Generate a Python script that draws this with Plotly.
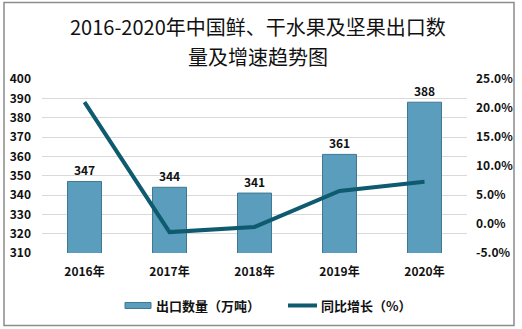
import plotly.graph_objects as go

years = ["2016年", "2017年", "2018年", "2019年", "2020年"]
export_qty = [347, 344, 341, 361, 388]
growth_pct = [21.0, -1.4, -0.5, 5.7, 7.3]
left_ticks = list(range(310, 401, 10))
right_ticks = list(range(-5, 26, 5))
right_labels = [f"{v:.1f}%" for v in right_ticks]
title_lines = ["2016-2020年中国鲜、干水果及坚果出口数", "量及增速趋势图"]
series_names = ["出口数量（万吨）", "同比增长（%）"]

FONT = "Noto Sans CJK SC, Noto Sans, sans-serif"
W, H = 522, 329
PLOT_LEFT, PLOT_RIGHT = 42, 467
PLOT_TOP, PLOT_BOTTOM = 79.3, 252.7
BAR_COLOR = "#5b9dbd"
LINE_COLOR = "#0e5a6e"


def py2paper(py):
    return (PLOT_BOTTOM - py) / (PLOT_BOTTOM - PLOT_TOP)


def px2paper(px):
    return (px - PLOT_LEFT) / (PLOT_RIGHT - PLOT_LEFT)


fig = go.Figure()
fig.add_trace(go.Bar(
    x=years, y=export_qty, name=series_names[0],
    width=0.4,
    marker=dict(color=BAR_COLOR, line=dict(color="#3f7890", width=1)),
    text=[str(v) for v in export_qty], textposition="outside",
    textfont=dict(size=12, color="#111", family=FONT, weight="bold"),
    cliponaxis=False,
))
fig.add_trace(go.Scatter(
    x=years, y=growth_pct, name=series_names[1], yaxis="y2",
    mode="lines", line=dict(color=LINE_COLOR, width=4),
))

fig.update_layout(
    width=W, height=H,
    margin=dict(l=PLOT_LEFT, r=W - PLOT_RIGHT, t=PLOT_TOP, b=H - PLOT_BOTTOM, autoexpand=False),
    paper_bgcolor="white", plot_bgcolor="white",
    font=dict(family=FONT, size=11, color="#111"),
    xaxis=dict(showline=False, ticks="", tickfont=dict(size=12, weight="bold"),
               showgrid=False, ticklabelstandoff=10),
    yaxis=dict(range=[310, 400], tickvals=left_ticks, showgrid=True,
               gridcolor="#d9d9d9", gridwidth=1, zeroline=False, ticks="",
               tickfont=dict(size=12, weight="bold"), ticklabelstandoff=10),
    yaxis2=dict(range=[-5, 25], tickvals=right_ticks, ticktext=right_labels,
                overlaying="y", side="right",
                showgrid=False, zeroline=False,
                tickfont=dict(size=12, weight="bold"), ticklabelstandoff=8),
    barmode="overlay",
    showlegend=False,
)

# title: two centred lines
for line, py in zip(title_lines, [27, 57]):
    fig.add_annotation(xref="paper", yref="paper", x=px2paper(258), y=py2paper(py),
                       text=line, showarrow=False, yanchor="middle",
                       font=dict(family=FONT, size=20, color="#111"))

# custom legend
LEG_Y = 305
fig.add_shape(type="rect", xref="paper", yref="paper",
              x0=px2paper(125), x1=px2paper(151), y0=py2paper(308), y1=py2paper(302),
              fillcolor=BAR_COLOR, line=dict(color="#3f7890", width=1))
fig.add_shape(type="line", xref="paper", yref="paper",
              x0=px2paper(288), x1=px2paper(317), y0=py2paper(LEG_Y), y1=py2paper(LEG_Y),
              line=dict(color=LINE_COLOR, width=4))
for name, px in zip(series_names, [154, 319]):
    fig.add_annotation(xref="paper", yref="paper", x=px2paper(px), y=py2paper(LEG_Y),
                       text=name, showarrow=False, xanchor="left", yanchor="middle",
                       font=dict(family=FONT, size=13, color="#111", weight="bold"))

# outer border
fig.add_shape(type="rect", xref="paper", yref="paper",
              x0=px2paper(4), x1=px2paper(514),
              y0=py2paper(325), y1=py2paper(3),
              line=dict(color="#8c8c8c", width=1.5), fillcolor="rgba(0,0,0,0)", layer="below")

fig.write_html("out.html")
